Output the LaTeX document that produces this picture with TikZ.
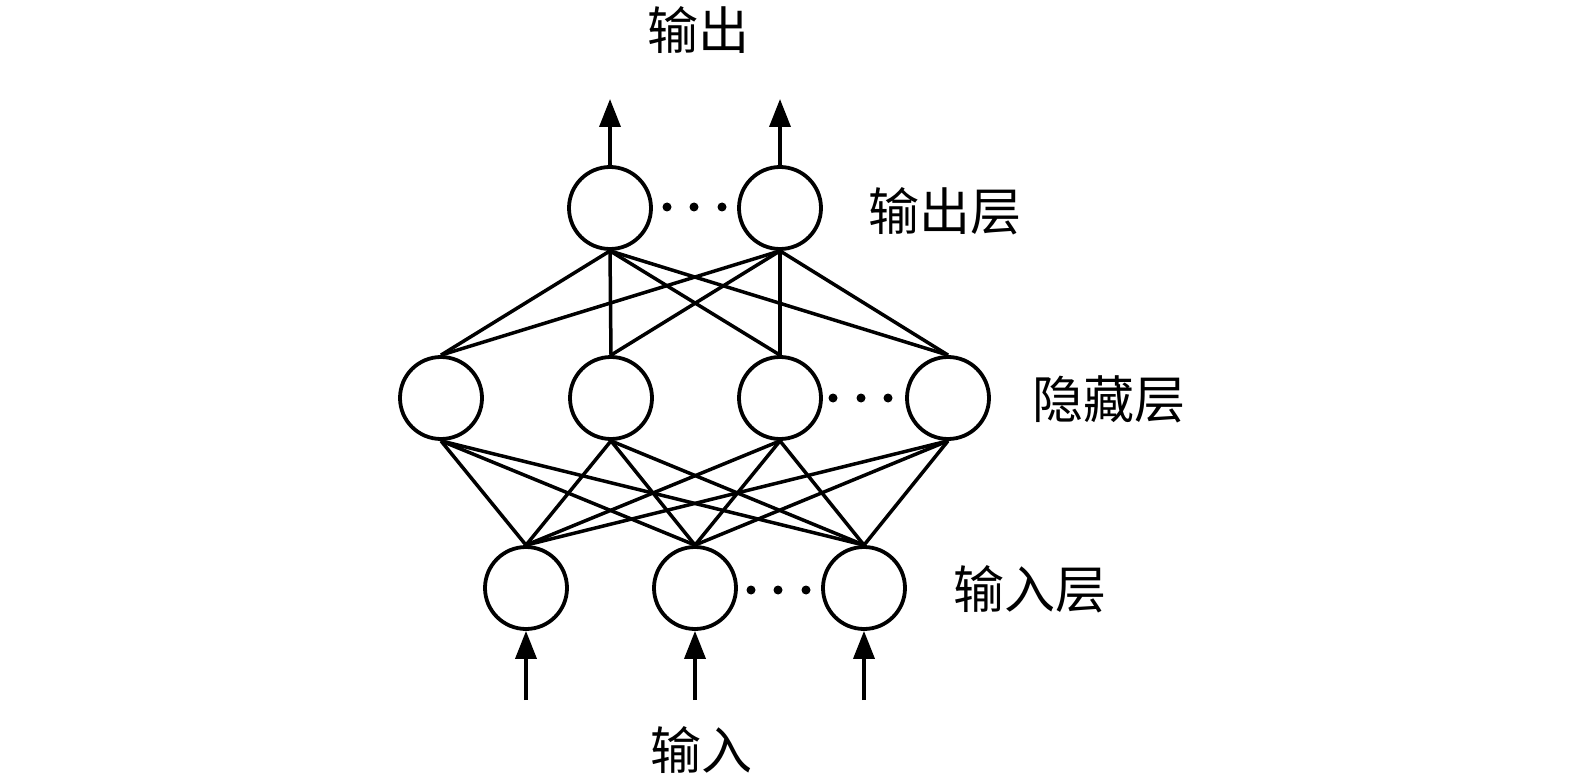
\documentclass[tikz,border=0pt]{standalone}
\usepackage{fontspec}
\newfontfamily\cjk{Noto Sans CJK SC}
\usetikzlibrary{arrows.meta}
\begin{document}
\begin{tikzpicture}[x=1pt,y=-1pt,
  neuron/.style={circle,draw,line width=3.8pt,minimum size=82pt,inner sep=0pt},
  dotnode/.style={circle,fill,minimum size=9pt,inner sep=0pt},
  link/.style={line width=3.5pt},
  io/.style={line width=3.6pt,-{Triangle[width=21pt,length=28pt]}},
  lab/.style={font=\cjk\fontsize{51}{51}\selectfont,inner sep=0pt,anchor=center}]
\useasboundingbox (0,0) rectangle (1575,778);
% nodes
\node[neuron] (o1) at (610,208) {};
\node[neuron] (o2) at (780,208) {};
\node[neuron] (h1) at (441,398) {};
\node[neuron] (h2) at (611,398) {};
\node[neuron] (h3) at (780,398) {};
\node[neuron] (h4) at (948,398) {};
\node[neuron] (i1) at (526,588) {};
\node[neuron] (i2) at (695,588) {};
\node[neuron] (i3) at (864,588) {};
% dots
\node[dotnode] (od1) at (667,207) {};
\node[dotnode] (od2) at (694,207) {};
\node[dotnode] (od3) at (722,207) {};
\node[dotnode] (hd1) at (833,398) {};
\node[dotnode] (hd2) at (861,398) {};
\node[dotnode] (hd3) at (888,398) {};
\node[dotnode] (id1) at (751,590) {};
\node[dotnode] (id2) at (778,590) {};
\node[dotnode] (id3) at (806,590) {};
% connections hidden -> output
\foreach \h in {h1,h2,h3,h4}
  \foreach \o in {o1,o2}
    \draw[link] (\h.north) -- (\o.south);
% connections input -> hidden
\foreach \i in {i1,i2,i3}
  \foreach \h in {h1,h2,h3,h4}
    \draw[link] (\i.north) -- (\h.south);
% arrows
\coordinate (ot1) at (610,99);
\coordinate (ot2) at (780,99);
\draw[io] (o1.north) -- (ot1);
\draw[io] (o2.north) -- (ot2);
\coordinate (ib1) at (526,700);
\coordinate (ib2) at (695,700);
\coordinate (ib3) at (864,700);
\draw[io] (ib1) -- (i1.south);
\draw[io] (ib2) -- (i2.south);
\draw[io] (ib3) -- (i3.south);
% labels
\node[lab] (tout) at (698,30) {输出};
\node[lab] (tin) at (701,750) {输入};
\node[lab] (lo) at (945,211) {输出层};
\node[lab] (lh) at (1109,399) {隐藏层};
\node[lab] (li) at (1030,589) {输入层};
\end{tikzpicture}
\end{document}
